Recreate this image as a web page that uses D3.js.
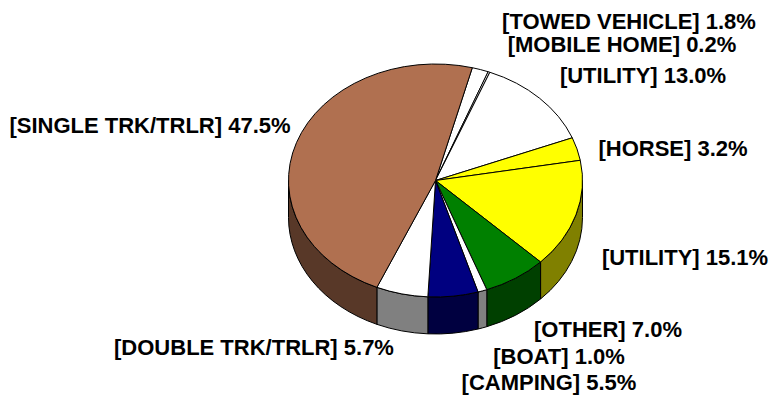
<!DOCTYPE html>
<html>
<head>
<meta charset="utf-8">
<script src="https://cdn.jsdelivr.net/npm/d3@7/dist/d3.min.js"></script>
<style>
  html, body { margin: 0; padding: 0; background: #fff; }
  svg { display: block; }
  text { font-family: "Liberation Sans", Arial, sans-serif; font-weight: bold; font-size: 22px; fill: #000; }
</style>
</head>
<body>
<svg id="chart" width="773" height="397"></svg>
<script>
// Trailer types, listed clockwise from the first slice
const categories = ["TOWED VEHICLE", "MOBILE HOME", "UTILITY", "HORSE", "UTILITY",
                    "OTHER", "BOAT", "CAMPING", "DOUBLE TRK/TRLR", "SINGLE TRK/TRLR"];
const shares = [1.8, 0.2, 13.0, 3.2, 15.1, 7.0, 1.0, 5.5, 5.7, 47.5];
const sliceColors = ["#ffffff", "#ffffff", "#ffffff", "#ffff00", "#ffff00",
                     "#008000", "#ffffff", "#000080", "#ffffff", "#b07050"];

// Label layout (centre of each label)
const labelX = [629, 622, 643, 673, 685, 608, 559, 549, 254, 150];
const labelY = [21, 44, 75, 148, 257, 329, 356, 382, 347, 125];

// Pie geometry: elliptical top face with a visible rim
const cx = 435.5, cy = 180.5, rx = 147, ry = 116.5, depth = 37;
const startDeg = 14.5;

const svg = d3.select("#chart");

const pie = d3.pie()
  .sort(null)
  .value(d => d.v)
  .startAngle(startDeg * Math.PI / 180)
  .endAngle(startDeg * Math.PI / 180 + 2 * Math.PI);

const slices = pie(categories.map((c, i) => ({ c, v: shares[i], col: sliceColors[i] })));

// angle measured clockwise from 12 o'clock
const px = a => cx + rx * Math.sin(a);
const py = a => cy - ry * Math.cos(a);

function topPath(a0, a1) {
  const large = (a1 - a0) > Math.PI ? 1 : 0;
  return `M${cx},${cy}L${px(a0)},${py(a0)}A${rx},${ry} 0 ${large} 1 ${px(a1)},${py(a1)}Z`;
}

function sidePath(b0, b1) {
  return `M${px(b0)},${py(b0)}A${rx},${ry} 0 0 1 ${px(b1)},${py(b1)}` +
         `L${px(b1)},${py(b1) + depth}A${rx},${ry} 0 0 0 ${px(b0)},${py(b0) + depth}Z`;
}

const shade = c => { const r = d3.rgb(c); return d3.rgb(r.r * 0.5, r.g * 0.5, r.b * 0.5).formatHex(); };

// Front rim: the part of each slice between 90° and 270°
const frontLo = Math.PI / 2, frontHi = 3 * Math.PI / 2;
const rim = svg.append("g");
slices.forEach(s => {
  const b0 = Math.max(s.startAngle, frontLo);
  const b1 = Math.min(s.endAngle, frontHi);
  if (b1 > b0) {
    rim.append("path")
      .attr("d", sidePath(b0, b1))
      .attr("fill", shade(s.data.col))
      .attr("stroke", "#000")
      .attr("stroke-width", 1)
      .attr("stroke-linejoin", "round");
  }
});

// Top faces
svg.append("g").selectAll("path")
  .data(slices)
  .join("path")
  .attr("d", s => topPath(s.startAngle, s.endAngle))
  .attr("fill", s => s.data.col)
  .attr("stroke", "#000")
  .attr("stroke-width", 1)
  .attr("stroke-linejoin", "round");

// Labels
svg.append("g").selectAll("text")
  .data(slices)
  .join("text")
  .attr("x", (s, i) => labelX[i])
  .attr("y", (s, i) => labelY[i])
  .attr("dy", "0.36em")
  .attr("text-anchor", "middle")
  .text(s => `[${s.data.c}] ${s.data.v.toFixed(1)}%`);
</script>
</body>
</html>
